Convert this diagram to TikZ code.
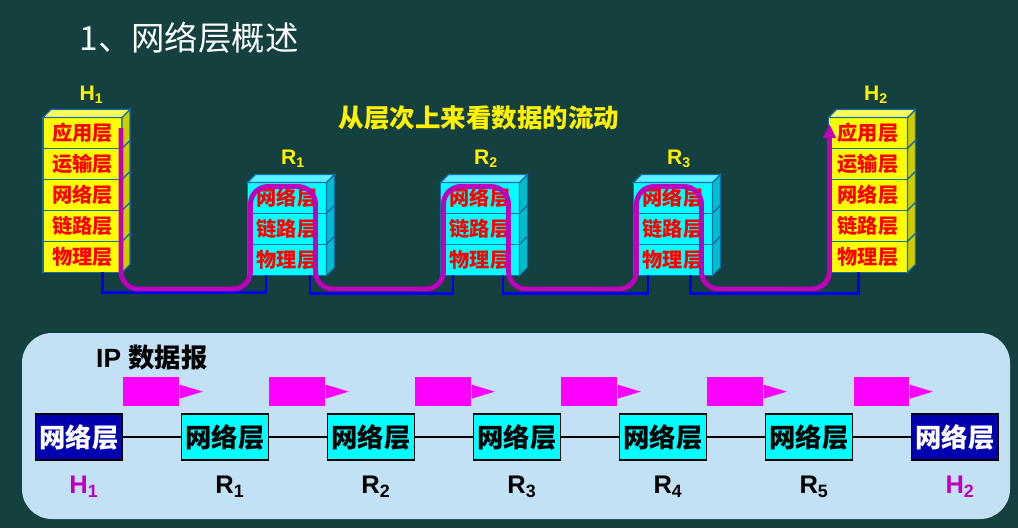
\documentclass[tikz,border=0pt]{standalone}
\usepackage{fontspec}
\setmainfont{Liberation Sans}
\newfontfamily\cjk{Noto Sans CJK SC}
\usepackage{tikz}
\usetikzlibrary{arrows.meta,positioning,calc}

\definecolor{bgteal}{RGB}{20,64,64}
\definecolor{edgeblue}{RGB}{20,110,170}
\definecolor{layyellow}{RGB}{255,255,0}
\definecolor{sideyellow}{RGB}{205,205,0}
\definecolor{topyellow}{RGB}{255,255,90}
\definecolor{laycyan}{RGB}{0,255,255}
\definecolor{sidecyan}{RGB}{0,190,205}
\definecolor{topcyan}{RGB}{90,240,255}
\definecolor{linkblue}{RGB}{0,0,235}
\definecolor{flowmag}{RGB}{190,0,190}
\definecolor{panelblue}{RGB}{195,225,245}
\definecolor{hostblue}{RGB}{0,0,175}
\definecolor{pktpink}{RGB}{255,0,255}
\definecolor{hmag}{RGB}{190,0,190}

\begin{document}
\begin{tikzpicture}[
    x=0.02cm, y=-0.02cm,
    node distance=0cm,
    hlay/.style={rectangle, draw=edgeblue, line width=0.7pt, fill=layyellow, outer sep=0pt, inner sep=0pt, minimum width=1.58cm, minimum height=0.62cm, text=red, font=\cjk\bfseries\fontsize{11.5}{12}\selectfont},
    rlay/.style={hlay, fill=laycyan},
    hside/.style={fill=sideyellow, draw=edgeblue, line width=0.7pt},
    htop/.style={fill=topyellow, draw=edgeblue, line width=0.7pt},
    rside/.style={fill=sidecyan, draw=edgeblue, line width=0.7pt},
    rtop/.style={fill=topcyan, draw=edgeblue, line width=0.7pt},
    toplbl/.style={text=yellow, font=\bfseries\fontsize{12}{13}\selectfont},
    link/.style={draw=linkblue, line width=1.7pt},
    flow/.style={draw=flowmag, line width=2.8pt, rounded corners=10pt, -{Triangle[length=8pt,width=7pt]}},
    hostnet/.style={rectangle, draw=black, line width=0.6pt, fill=hostblue, text=white, inner sep=0pt, minimum width=1.74cm, minimum height=0.92cm, font=\cjk\bfseries\fontsize{15}{16}\selectfont},
    rtnet/.style={hostnet, fill=laycyan, text=black},
    wire/.style={draw=black, line width=0.6pt},
    packet/.style={rectangle, fill=pktpink, inner sep=0pt, minimum width=1.12cm, minimum height=0.58cm},
    botlbl/.style={text=black, font=\bfseries\fontsize{14.5}{16}\selectfont}
]
    \useasboundingbox (0,0) rectangle (1018,528);
    \fill[bgteal] (0,0) rectangle (1018,528);

    % title
    \node[text=white, font=\cjk\fontsize{19}{22}\selectfont] (title) at (189,38) {1、网络层概述};
    \node[text=yellow, font=\cjk\bfseries\fontsize{14.5}{16}\selectfont] (flowcap) at (479,118) {从层次上来看数据的流动};

    % host stacks
    \node[hlay] (h1a) at (82.5,133) {应用层};
    \node[hlay, below=of h1a] (h1t) {运输层};
    \node[hlay, below=of h1t] (h1n) {网络层};
    \node[hlay, below=of h1n] (h1l) {链路层};
    \node[hlay, below=of h1l] (h1p) {物理层};

    \node[hlay] (h2a) at (868,133) {应用层};
    \node[hlay, below=of h2a] (h2t) {运输层};
    \node[hlay, below=of h2t] (h2n) {网络层};
    \node[hlay, below=of h2n] (h2l) {链路层};
    \node[hlay, below=of h2l] (h2p) {物理层};

    % router stacks
    \foreach \r/\x in {r1/287, r2/480, r3/673} {
        \node[rlay] (\r-n) at (\x,198) {网络层};
        \node[rlay, below=of \r-n] (\r-l) {链路层};
        \node[rlay, below=of \r-l] (\r-p) {物理层};
    }

    % 3d faces
    \foreach \n in {h1a,h1t,h1n,h1l,h1p,h2a,h2t,h2n,h2l,h2p}
        \filldraw[hside] (\n.north east) -- ++(8,-8) -- ($(\n.south east)+(8,-8)$) -- (\n.south east) -- cycle;
    \foreach \n in {h1a,h2a}
        \filldraw[htop] (\n.north west) -- ++(8,-8) -- ($(\n.north east)+(8,-8)$) -- (\n.north east) -- cycle;
    \foreach \n in {r1-n,r1-l,r1-p,r2-n,r2-l,r2-p,r3-n,r3-l,r3-p}
        \filldraw[rside] (\n.north east) -- ++(8,-8) -- ($(\n.south east)+(8,-8)$) -- (\n.south east) -- cycle;
    \foreach \n in {r1-n,r2-n,r3-n}
        \filldraw[rtop] (\n.north west) -- ++(8,-8) -- ($(\n.north east)+(8,-8)$) -- (\n.north east) -- cycle;

    \node[toplbl] (h1-name) at ($(h1a.north)+(9,-23)$) {H\textsubscript{1}};
    \node[toplbl] (h2-name) at ($(h2a.north)+(8,-23)$) {H\textsubscript{2}};
    \foreach \r/\i in {r1/1, r2/2, r3/3}
        \node[toplbl] (\r-name) at ($(\r-n.north)+(6,-24)$) {R\textsubscript{\i}};

    % links
    \draw[link] ($(h1p.south)+(20,0)$) -- ++(0,20) -| ($(r1-p.south)+(-21,0)$);
    \draw[link] ($(r1-p.south)+(23,0)$) -- ++(0,18) -| ($(r2-p.south)+(-27,0)$);
    \draw[link] ($(r2-p.south)+(23,0)$) -- ++(0,18) -| ($(r3-p.south)+(-25,0)$);
    \draw[link] ($(r3-p.south)+(17,0)$) -- ++(0,18) -| ($(h2p.south)+(-10,0)$);

    % data flow
    \coordinate (flowlane) at (0,289);
    \coordinate (fstart) at ($(h1a.east)+(-1,-5)$);
    \coordinate (fend) at ($(h2a.west)+(1,-9)$);
    \foreach \r in {r1,r2,r3} {
        \coordinate (\r-in) at ($(\r-n.north west)+(3,4)$);
        \coordinate (\r-out) at ($(\r-n.north east)+(-11,4)$);
    }
    \draw[flow] (fstart) -- (fstart |- flowlane) -- (r1-in |- flowlane) -- (r1-in) -- (r1-out)
        -- (r1-out |- flowlane) -- (r2-in |- flowlane) -- (r2-in) -- (r2-out)
        -- (r2-out |- flowlane) -- (r3-in |- flowlane) -- (r3-in) -- (r3-out)
        -- (r3-out |- flowlane) -- (fend |- flowlane) -- (fend);

    % lower panel
    \fill[panelblue, rounded corners=17pt] (22,333) rectangle (1010,519);
    \node[anchor=west, text=black, font=\bfseries\fontsize{15}{18}\selectfont] (iplbl) at (90,358) {IP {\cjk 数据报}};

    \node[hostnet] (nl0) at (79,437) {网络层};
    \foreach \i [count=\j from 0] in {1,...,5}
        \node[rtnet, right=1.16cm of nl\j] (nl\i) {网络层};
    \node[hostnet, right=1.16cm of nl5] (nl6) {网络层};

    \foreach \i [count=\j from 1] in {0,...,5}
        \draw[wire] (nl\i) -- (nl\j);

    \foreach \i [count=\j from 1] in {0,...,5} {
        \node[packet, above right=0.14cm and 0cm of nl\i.north east] (pk\j) {};
        \fill[pktpink] ($(pk\j.east)+(0,-7)$) -- ++(23,7) -- ++(-23,7) -- cycle;
    }

    \node[botlbl, text=hmag] (lb0) at ($(nl0.south)+(5,26)$) {H\textsubscript{1}};
    \foreach \i in {1,...,5}
        \node[botlbl] (lb\i) at ($(nl\i.south)+(5,26)$) {R\textsubscript{\i}};
    \node[botlbl, text=hmag] (lb6) at ($(nl6.south)+(5,26)$) {H\textsubscript{2}};
\end{tikzpicture}
\end{document}
